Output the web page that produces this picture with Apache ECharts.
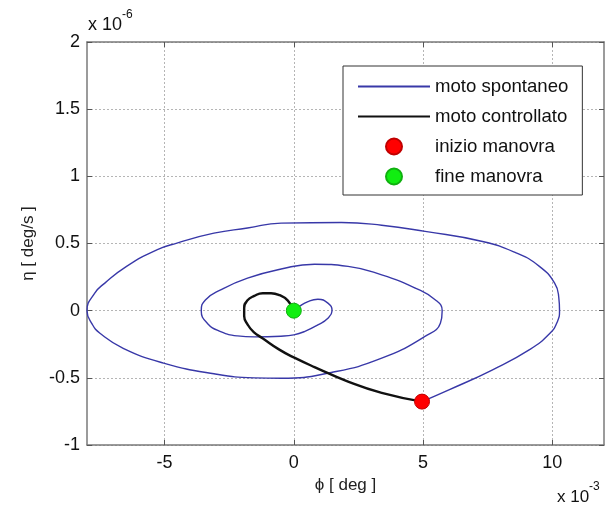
<!DOCTYPE html>
<html>
<head>
<meta charset="utf-8">
<script src="https://cdn.jsdelivr.net/npm/echarts@6/dist/echarts.min.js"></script>
<style>
  html, body { margin: 0; padding: 0; background: #fff; }
  #chart { width: 611px; height: 507px; }
</style>
</head>
<body>
<div id="chart"></div>
<script>
// phi in units of 1e-3 deg, eta in units of 1e-6 deg/s
const xTicks = [-5, 0, 5, 10];

// free (uncontrolled) motion: spiral in the phase plane
const spontPhi = [4.96, 6.0, 7.69, 9.12, 9.9, 10.2, 10.28, 10.25, 10.09, 9.5, 8.6, 7.3, 5.08, 3.4, 1.84, -0.49, -1.79, -3.09, -4.52, -5.3, -6.47, -7.31, -7.7, -8.0, -7.8, -7.5, -6.6, -5.04, -3.09, -1.53, -0.49, 1.45, 3.4, 5.09, 5.67, 5.74,
                  5.48, 4.7, 3.4, 2.1, 0.8, -0.49, -1.79, -2.83, -3.42, -3.58, -3.35, -2.83, -2.18, -1.53, -0.5, 0, 0.41, 0.93, 1.32, 1.48, 1.32, 0.93, 0.55, 0.2, 0];
const spontEta = [-0.677, -0.59, -0.44, -0.29, -0.17, -0.08, 0, 0.1, 0.205, 0.33, 0.43, 0.515, 0.59, 0.636, 0.656, 0.652, 0.615, 0.577, 0.503, 0.453, 0.33, 0.205, 0.13, 0, -0.1, -0.168, -0.28, -0.39, -0.47, -0.5, -0.503, -0.46, -0.354, -0.19, -0.093, 0,
                  0.08, 0.168, 0.267, 0.33, 0.346, 0.31, 0.242, 0.155, 0.08, 0, -0.093, -0.156, -0.188, -0.195, -0.19, -0.18, -0.156, -0.106, -0.056, 0, 0.056, 0.085, 0.068, 0.03, 0];

// controlled motion from start to end of the manoeuvre
const ctrlPhi = [4.96, 3.4, 2.1, 0.8, 0.02, -0.56, -1.21, -1.55, -1.78, -1.92, -1.92, -1.8, -1.53, -1.2, -0.88, -0.55, -0.23, 0];
const ctrlEta = [-0.677, -0.612, -0.528, -0.42, -0.35, -0.29, -0.205, -0.16, -0.105, -0.04, 0.02, 0.075, 0.11, 0.13, 0.13, 0.115, 0.075, 0];

const startPoint = [4.96, -0.677];
const endPoint = [0, 0];

const pairs = (a, b) => a.map((v, i) => [v, b[i]]);

const FONT = "'Liberation Sans', Arial, sans-serif";
const AXIS_GRAY = '#7a7a7a';
const BLUE = '#3838a8';

const chart = echarts.init(document.getElementById('chart'));

const xBase = {
  type: 'value', min: -8, max: 12,
  axisLine: { show: true, onZero: false, lineStyle: { color: AXIS_GRAY, width: 1.5 } },
  axisTick: { show: true, inside: true, length: 5, customValues: xTicks, lineStyle: { color: '#555' } }
};
const yBase = {
  type: 'value', min: -1, max: 2, interval: 0.5,
  axisLine: { show: true, onZero: false, lineStyle: { color: AXIS_GRAY, width: 1.5 } },
  axisTick: { show: true, inside: true, length: 5, lineStyle: { color: '#555' } }
};

chart.setOption({
  animation: false,
  backgroundColor: '#fff',
  textStyle: { fontFamily: FONT },
  grid: { left: 87, right: 7, top: 42, bottom: 62, containLabel: false },
  xAxis: [
    Object.assign({}, xBase, {
      position: 'bottom',
      name: 'ϕ [ deg ]', nameLocation: 'middle', nameGap: 31,
      nameTextStyle: { fontSize: 17, color: '#222', fontFamily: FONT },
      axisLabel: { show: true, customValues: xTicks, fontSize: 18, color: '#111', margin: 9, fontFamily: FONT },
      splitLine: { show: true, lineStyle: { color: '#b5b5b5', type: [2, 2], width: 1 } }
    }),
    Object.assign({}, xBase, {
      position: 'top',
      axisLabel: { show: false },
      splitLine: { show: false }
    })
  ],
  yAxis: [
    Object.assign({}, yBase, {
      position: 'left',
      name: 'η [ deg/s ]', nameLocation: 'middle', nameGap: 50, nameRotate: 90,
      nameTextStyle: { fontSize: 17, color: '#222', fontFamily: FONT },
      axisLabel: { show: true, fontSize: 18, color: '#111', margin: 7, fontFamily: FONT },
      splitLine: { show: true, lineStyle: { color: '#b5b5b5', type: [2, 2], width: 1 } }
    }),
    Object.assign({}, yBase, {
      position: 'right',
      axisLabel: { show: false },
      splitLine: { show: false }
    })
  ],
  legend: {
    orient: 'vertical',
    left: 343, top: 66,
    padding: [11, 14, 9, 14],
    itemGap: 11,
    itemWidth: 72, itemHeight: 16,
    backgroundColor: '#fff',
    borderColor: '#333', borderWidth: 1, borderRadius: 0,
    textStyle: { fontSize: 18.6, color: '#111', fontFamily: FONT, lineHeight: 18 },
    data: [
      { name: 'moto spontaneo', itemStyle: { opacity: 0 } },
      { name: 'moto controllato', itemStyle: { opacity: 0 } },
      { name: 'inizio manovra' },
      { name: 'fine manovra' }
    ]
  },
  graphic: [
    { type: 'text', x: 88, y: 25, style: { text: 'x 10', font: '18px ' + FONT, fill: '#111', verticalAlign: 'middle' } },
    { type: 'text', x: 122, y: 15, style: { text: '-6', font: '12px ' + FONT, fill: '#111', verticalAlign: 'middle' } },
    { type: 'text', x: 557, y: 497, style: { text: 'x 10', font: '17px ' + FONT, fill: '#111', verticalAlign: 'middle' } },
    { type: 'text', x: 589, y: 487, style: { text: '-3', font: '12px ' + FONT, fill: '#111', verticalAlign: 'middle' } }
  ],
  series: [
    {
      name: 'moto spontaneo', type: 'line', data: pairs(spontPhi, spontEta),
      showSymbol: false, symbol: 'none', smooth: 0.5,
      lineStyle: { color: BLUE, width: 1.4 }, itemStyle: { color: BLUE }, z: 2
    },
    {
      name: 'moto controllato', type: 'line', data: pairs(ctrlPhi, ctrlEta),
      showSymbol: false, symbol: 'none', smooth: 0.5,
      lineStyle: { color: '#111', width: 2.4 }, itemStyle: { color: '#111' }, z: 3
    },
    {
      name: 'inizio manovra', type: 'scatter', data: [startPoint],
      symbol: 'circle', symbolSize: 15,
      itemStyle: { color: '#ff0000', borderColor: '#c00000', borderWidth: 1, opacity: 1 }, z: 4
    },
    {
      name: 'fine manovra', type: 'scatter', data: [endPoint],
      symbol: 'circle', symbolSize: 15,
      itemStyle: { color: '#11ee11', borderColor: '#10b010', borderWidth: 1, opacity: 1 }, z: 4
    }
  ]
});
</script>
</body>
</html>
